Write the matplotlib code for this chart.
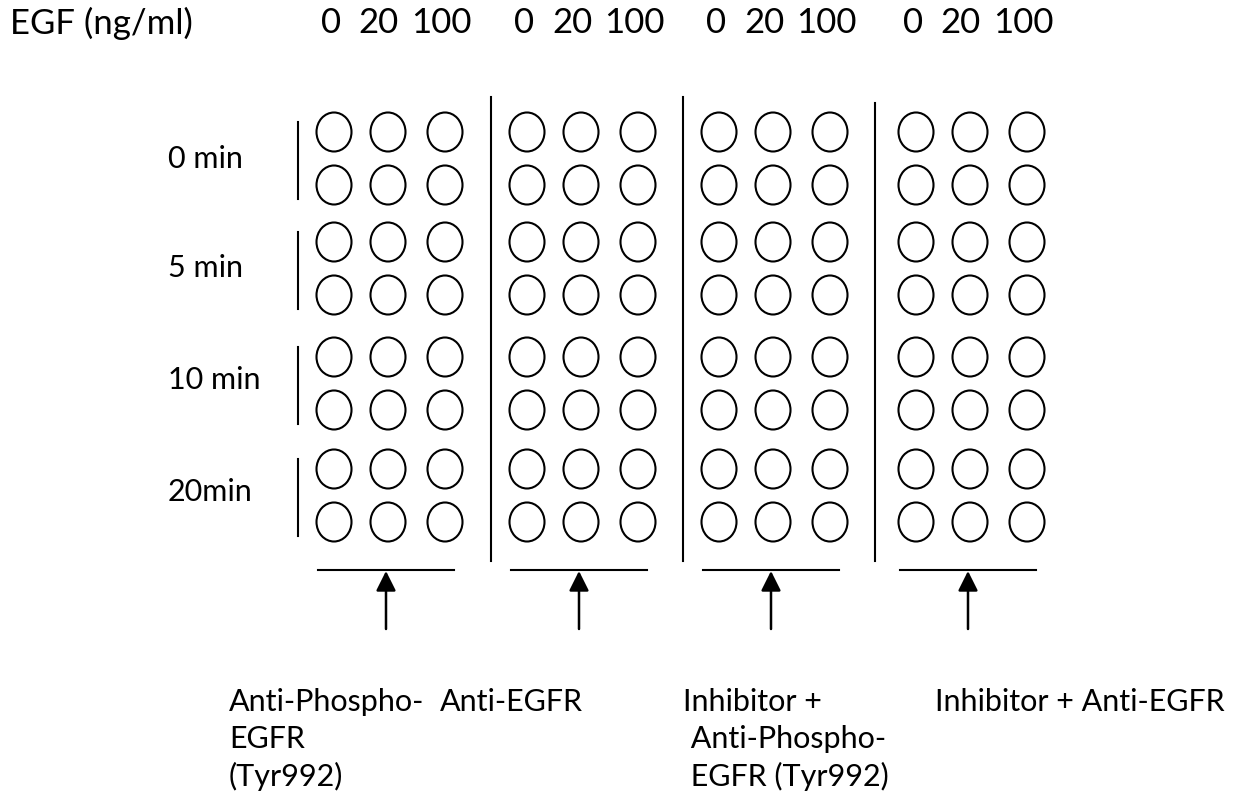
import matplotlib
matplotlib.use("Agg")
import matplotlib.pyplot as plt
from matplotlib.patches import Ellipse

plt.rcParams["font.family"] = ["Lato", "DejaVu Sans"]

# data
egf_doses = [0, 20, 100]
time_points = ["0 min", "5 min", "10 min", "20min"]
replicates = 2
antibodies = [
    "Anti-Phospho-\nEGFR\n(Tyr992)",
    "Anti-EGFR",
    "Inhibitor +\n Anti-Phospho-\n EGFR (Tyr992)",
    "Inhibitor + Anti-EGFR",
]

# layout (pixel coords of the 1234x799 canvas)
panel_x0 = [334, 527, 719, 916]
col_dx = [0, 54, 111]
dose_dx = [-3, -9, -4]
pair_top = [132, 242, 357, 469]
rep_dy = 53
label_y = [159, 268, 380, 492]
div_x = [491, 683, 875]
div_top = [97, 97, 103]
ab_x = [229, 440, 683, 935]
fs = 22
fs_top = 25

fig = plt.figure(figsize=(12.34, 7.99), dpi=100)
ax = fig.add_axes([0, 0, 1, 1])
ax.set_xlim(0, 1234)
ax.set_ylim(799, 0)
ax.axis("off")

ax.text(10, 23, "EGF (ng/ml)", fontsize=fs_top, va="center", ha="left")

for p, x0 in enumerate(panel_x0):
    for c, dose in enumerate(egf_doses):
        cx = x0 + col_dx[c]
        ax.text(cx + dose_dx[c], 23, str(dose), fontsize=fs_top,
                va="center", ha="center")
        for t in range(len(time_points)):
            for r in range(replicates):
                cy = pair_top[t] + r * rep_dy
                ax.add_patch(Ellipse((cx, cy), 35, 39, fill=False,
                                     edgecolor="black", lw=1.5))
    # line + arrow under each panel
    mid = x0 + col_dx[1]
    ax.plot([mid - 70, mid + 66], [570, 570], color="black", lw=1.5)
    ax.annotate("", xy=(mid - 2, 571), xytext=(mid - 2, 629),
                arrowprops=dict(arrowstyle="-|>,head_length=0.6,head_width=0.3",
                                color="black", lw=1.8, mutation_scale=20,
                                shrinkA=0, shrinkB=0))
    ax.text(ab_x[p], 688, antibodies[p], fontsize=fs, va="top", ha="left",
            linespacing=1.38)

# time labels and brackets
for t, lab in enumerate(time_points):
    ax.text(168, label_y[t], lab, fontsize=fs, va="center", ha="left")
    ax.plot([298, 298], [pair_top[t] - 10, pair_top[t] + rep_dy + 14],
            color="black", lw=1.5)

# dividers between panels
for x, top in zip(div_x, div_top):
    ax.plot([x, x], [top, 561], color="black", lw=1.5)

fig.savefig("out.png", dpi=100, facecolor="white")
